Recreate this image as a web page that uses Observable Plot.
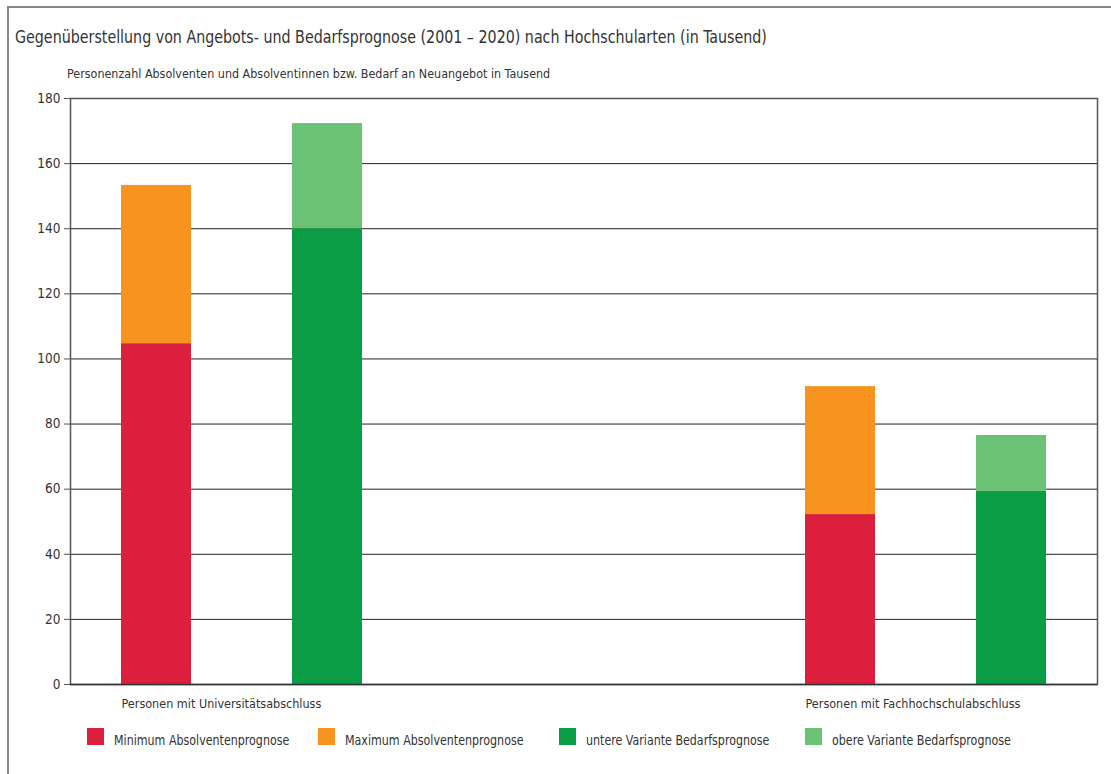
<!DOCTYPE html>
<html>
<head>
<meta charset="utf-8">
<script src="https://cdn.jsdelivr.net/npm/d3@7"></script>
<script src="https://cdn.jsdelivr.net/npm/@observablehq/plot@0.6"></script>
<style>
  html, body { margin: 0; padding: 0; background: #fff; }
  body { width: 1111px; height: 774px; position: relative; overflow: hidden;
         font-family: "DejaVu Sans Condensed", "Liberation Sans Narrow", sans-serif; color: #333; }
  .border-left { position: absolute; left: 7px; top: 6px; width: 2px; height: 768px; background: #888; }
  .border-top { position: absolute; left: 7px; top: 6px; width: 1104px; height: 2px; background: #888; }
  #title { position: absolute; left: 15px; top: 27px; font-size: 18px; line-height: 20px; white-space: nowrap; color: #333;
           transform: scaleX(0.88); transform-origin: 0 50%; }
  #ytitle { position: absolute; left: 67px; top: 66px; font-size: 13px; line-height: 16px; white-space: nowrap; color: #333;
            transform: scaleX(0.955); transform-origin: 0 50%; }
  #chart { position: absolute; left: 0; top: 80px; }
  .lg-sw { position: absolute; top: 728px; width: 17px; height: 17px; }
  .lg-tx { position: absolute; top: 732px; font-size: 14px; line-height: 16px; white-space: nowrap; color: #333;
           transform: scaleX(0.88); transform-origin: 0 50%; }
</style>
</head>
<body>
<div class="border-left"></div>
<div class="border-top"></div>
<div id="title"></div>
<div id="ytitle"></div>
<div id="chart"></div>
<div id="legend"></div>
<script>
const titleText = "Gegenüberstellung von Angebots- und Bedarfsprognose (2001 – 2020) nach Hochschularten (in Tausend)";
const yTitleText = "Personenzahl Absolventen und Absolventinnen bzw. Bedarf an Neuangebot in Tausend";
const groups = ["Personen mit Universitätsabschluss", "Personen mit Fachhochschulabschluss"];
const absolventenMin = [104.7, 52.2];
const absolventenMax = [153.3, 91.5];
const bedarfUnten = [140.0, 59.3];
const bedarfOben = [172.3, 76.5];
const seriesNames = ["Minimum Absolventenprognose", "Maximum Absolventenprognose", "untere Variante Bedarfsprognose", "obere Variante Bedarfsprognose"];
const seriesColors = ["#dc1f3d", "#f7931e", "#0a9d45", "#6bc274"];
const yTicks = [0, 20, 40, 60, 80, 100, 120, 140, 160, 180];
const slots = ["Uni-A", "Uni-B", "gap-1", "gap-2", "FH-A", "FH-B"];
const groupSlots = [["Uni-A", "Uni-B"], ["FH-A", "FH-B"]];
const legendLeft = [87, 318, 559, 805];

document.getElementById("title").textContent = titleText;
document.getElementById("ytitle").textContent = yTitleText;

const rows = [];
groups.forEach((g, i) => {
  const [a, b] = groupSlots[i];
  rows.push({slot: a, y1: 0, y2: absolventenMin[i], series: seriesNames[0]});
  rows.push({slot: a, y1: absolventenMin[i], y2: absolventenMax[i], series: seriesNames[1]});
  rows.push({slot: b, y1: 0, y2: bedarfUnten[i], series: seriesNames[2]});
  rows.push({slot: b, y1: bedarfUnten[i], y2: bedarfOben[i], series: seriesNames[3]});
});

const labelFor = d => d === groupSlots[0][0] ? groups[0] : d === groupSlots[1][0] ? groups[1] : "";

const plot = Plot.plot({
  width: 1111,
  height: 640,
  marginLeft: 70,
  marginRight: 14,
  marginTop: 18,
  marginBottom: 36,
  style: {fontFamily: '"DejaVu Sans Condensed", "Liberation Sans Narrow", sans-serif', fontSize: "13px", color: "#333", background: "transparent"},
  x: {type: "band", domain: slots, paddingInner: 0.59, paddingOuter: 0.29, label: null},
  y: {domain: [0, 180], label: null},
  color: {domain: seriesNames, range: seriesColors},
  marks: [
    Plot.gridY(yTicks, {stroke: "#222", strokeOpacity: 1, strokeWidth: 1}),
    Plot.barY(rows, {x: "slot", y1: "y1", y2: "y2", fill: "series"}),
    Plot.frame({stroke: "#555", strokeWidth: 1.5}),
    Plot.ruleY([0], {stroke: "#333", strokeWidth: 1.5}),
    Plot.axisY(yTicks, {tickSize: 6, tickPadding: 4, stroke: "#555", fontSize: 13.5, label: null}),
    Plot.axisX({tickSize: 0, tickPadding: 15, tickFormat: labelFor, textAnchor: "start", dx: -35, fontSize: 12.5, label: null})
  ]
});
document.getElementById("chart").appendChild(plot);

const legend = document.getElementById("legend");
seriesNames.forEach((name, i) => {
  const sw = document.createElement("div");
  sw.className = "lg-sw";
  sw.style.left = legendLeft[i] + "px";
  sw.style.background = seriesColors[i];
  const t = document.createElement("div");
  t.className = "lg-tx";
  t.style.left = (legendLeft[i] + 27) + "px";
  t.textContent = name;
  legend.appendChild(sw);
  legend.appendChild(t);
});
</script>
</body>
</html>
